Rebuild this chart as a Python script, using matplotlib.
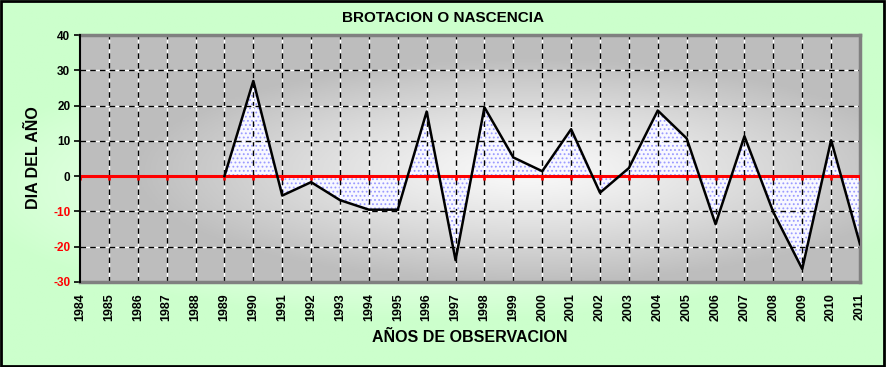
import numpy as np
import matplotlib
matplotlib.use("Agg")
import matplotlib.pyplot as plt
from matplotlib.patches import Rectangle

years = list(range(1984, 2012))
# dia del año (desviacion); sin datos antes de 1989
dias = [np.nan, np.nan, np.nan, np.nan, np.nan,
        0, 27, -5.5, -1.7, -6.8, -9.5, -9.5, 18.3, -23.8, 19.5,
        5.3, 1.4, 13.3, -4.7, 2.3, 18.6, 10.7, -13.6, 11.3, -10.2,
        -26.3, 10.2, -19.3]
yticks = [-30, -20, -10, 0, 10, 20, 30, 40]

plt.rcParams["font.family"] = ["Liberation Sans", "DejaVu Sans"]
plt.rcParams["font.weight"] = "bold"
plt.rcParams["hatch.linewidth"] = 0.8

W, H = 886, 367
fig = plt.figure(figsize=(W / 100, H / 100), dpi=100)

# fondo verde con degradado
bg = fig.add_axes([0, 0, 1, 1], zorder=-10)
gx, gy = np.meshgrid(np.linspace(-1, 1, 300), np.linspace(-1, 1, 150))
r = np.clip(np.sqrt((gx / 1.1) ** 2 + (gy / 0.75) ** 2), 0, 1)
green = np.array([0.80, 1.0, 0.80])
white = np.array([1.0, 1.0, 1.0])
img = white[None, None, :] * (1 - r[..., None] ** 1.3) + green[None, None, :] * r[..., None] ** 1.3
bg.imshow(img, extent=(0, 1, 0, 1), aspect="auto")
bg.set_axis_off()
bg.add_patch(Rectangle((0.001, 0.002), 0.997, 0.995, fill=False, ec="black", lw=2,
                       transform=bg.transAxes))

left, right = 80 / W, 860 / W
top, bottom = 1 - 35 / H, 1 - 282 / H
ax = fig.add_axes([left, bottom, right - left, top - bottom])
x = np.arange(len(years))
vals = np.array(dias, dtype=float)

ax.set_xlim(0, len(years) - 1)
ax.set_ylim(yticks[0], yticks[-1])

# area de trazado gris con degradado
px, py = np.meshgrid(np.linspace(-1, 1, 300), np.linspace(-1, 1, 150))
rr = np.clip(np.sqrt(((px - 0.15) / 1.0) ** 2 + ((py - 0.1) / 0.9) ** 2), 0, 1)
g = 0.98 - 0.235 * rr ** 1.2
ax.imshow(np.dstack([g, g, g]), extent=(0, len(years) - 1, yticks[0], yticks[-1]),
          aspect="auto", zorder=0)

ax.fill_between(x, vals, 0, facecolor="#f8f8ff", edgecolor="#9a9aff", hatch="....",
                linewidth=0, zorder=1)

# rejilla discontinua blanca/negra
for xi in x[1:-1]:
    ax.axvline(xi, color="white", lw=1, zorder=2)
    ax.axvline(xi, color="black", lw=1, ls=(0, (4, 3)), zorder=2)
for yv in yticks[1:-1]:
    ax.axhline(yv, color="white", lw=1, zorder=2)
    ax.axhline(yv, color="black", lw=1, ls=(0, (4, 3)), zorder=2)

ax.axhline(0, color="red", lw=2.2, zorder=3)
ax.vlines(x, -1.2, 0, color="red", lw=2, zorder=3)

ax.plot(x, vals, color="black", lw=1.8, zorder=4)

ax.set_yticks(yticks)
ax.set_yticklabels([str(v) for v in yticks], fontsize=8.5, fontweight="bold")
for lab, v in zip(ax.get_yticklabels(), yticks):
    lab.set_color("red" if v < 0 else "black")
ax.tick_params(axis="y", length=4, width=1.2, pad=3)

ax.set_xticks(x)
ax.set_xticklabels([str(y) for y in years], rotation=90, fontsize=9, fontweight="bold")
ax.tick_params(axis="x", length=0, pad=8)

for s in ["top", "right", "bottom"]:
    ax.spines[s].set_color("#808080")
    ax.spines[s].set_linewidth(2.5)
ax.spines["left"].set_color("black")
ax.spines["left"].set_linewidth(1.5)
ax.spines["left"].set_zorder(5)

fig.text(0.5, 1 - 18 / H, "BROTACION O NASCENCIA", ha="center", va="center",
         fontsize=11, fontweight="bold")
fig.text(470 / W, 1 - 337 / H, "AÑOS DE OBSERVACION", ha="center", va="center",
         fontsize=11.5, fontweight="bold")
fig.text(34 / W, 1 - 158 / H, "DIA DEL AÑO", ha="center", va="center", rotation=90,
         fontsize=11.5, fontweight="bold")

fig.savefig("out.png", dpi=100)
